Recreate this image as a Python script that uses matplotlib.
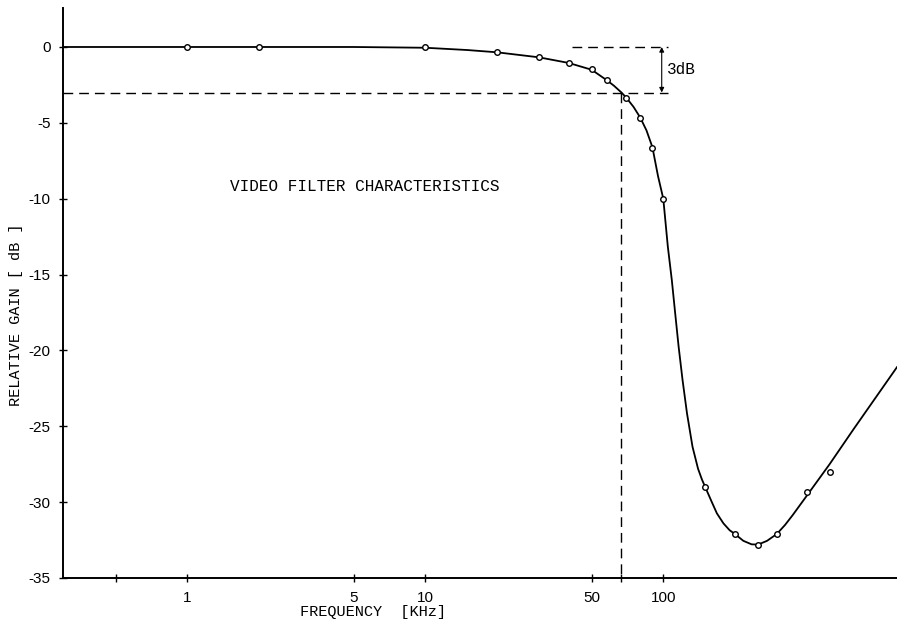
import matplotlib
matplotlib.use('Agg')
import matplotlib.pyplot as plt
from matplotlib.ticker import FixedLocator, NullFormatter

# measured points (frequency in kHz, relative gain in dB)
meas_freq = [1, 2, 10, 20, 30, 40, 50, 58, 70, 80, 90, 100,
             150, 200, 250, 300, 400, 500]
meas_gain = [0, 0, 0, -0.35, -0.68, -1.03, -1.47, -2.18, -3.38, -4.66, -6.64, -10.0,
             -29.0, -32.1, -32.8, -32.1, -29.3, -28.0]

# hand-drawn smooth curve
curve_freq = [0.3, 1, 5, 10, 15, 20, 30, 40, 50, 58, 62, 66.7, 70, 75, 80, 85, 90,
              95, 100, 104.5, 108.6, 112.2, 116, 120.5, 125.8, 132.7, 140, 145.3,
              150, 160, 168, 179, 190, 200, 217, 235, 250, 273, 300, 325, 350,
              400, 500, 630, 960]
curve_gain = [0, 0, 0, -0.05, -0.2, -0.35, -0.68, -1.05, -1.5, -2.2, -2.55, -3.0,
              -3.35, -3.95, -4.65, -5.5, -6.6, -8.5, -10.0, -13.16, -15.36, -17.55,
              -19.75, -21.95, -24.15, -26.35, -27.8, -28.5, -29.0, -30.0, -30.74,
              -31.4, -31.85, -32.1, -32.55, -32.78, -32.8, -32.55, -32.1, -31.5,
              -30.85, -29.6, -27.5, -25.2, -21.1]

f3db = 66.7          # -3 dB frequency
xticks = [1, 5, 10, 50, 100]
xtick_labels = ['1', '5', '10', '50', '100']
yticks = [0, -5, -10, -15, -20, -25, -30, -35]

mono = 'Liberation Mono'
sans = 'Liberation Sans'

fig = plt.figure(figsize=(8.97, 6.26), dpi=100)
ax = fig.add_axes([63 / 897, 1 - 578 / 626, 1 - 63 / 897, (578 - 8) / 626])

ax.plot(curve_freq, curve_gain, color='black', lw=1.3, zorder=3)
ax.plot(meas_freq, meas_gain, 'o', ms=4, mfc='white', mec='black', mew=1, zorder=4)

dash = (7, 4.3)
ax.plot([0.3, 105], [-3, -3], color='black', lw=1, dashes=dash)
ax.plot([41.5, 105], [0, 0], color='black', lw=1, dashes=dash)
ax.plot([f3db, f3db], [-3, -35], color='black', lw=1, dashes=dash)
ax.annotate('', xy=(98.5, 0), xytext=(98.5, -3),
            arrowprops=dict(arrowstyle='<|-|>', color='black', lw=0.8,
                            mutation_scale=7, shrinkA=0, shrinkB=0))
ax.text(104, -1.5, '3dB', fontfamily=mono, fontsize=11.5, va='center', ha='left')

ax.text(5.55, -9.2, 'VIDEO FILTER CHARACTERISTICS', fontfamily=mono,
        fontsize=11.5, ha='center', va='center')

ax.set_xscale('log')
ax.set_xlim(0.3, 960)
ax.set_ylim(-35, 2.57)

ax.xaxis.set_major_locator(FixedLocator(xticks))
ax.set_xticklabels(xtick_labels)
ax.xaxis.set_minor_locator(FixedLocator([0.5, f3db]))
ax.xaxis.set_minor_formatter(NullFormatter())
ax.set_yticks(yticks)
ax.set_yticklabels([str(v) for v in yticks])

ax.tick_params(axis='both', which='both', direction='inout', length=6, width=1,
               labelsize=11)
ax.tick_params(axis='x', pad=6)
ax.tick_params(axis='y', pad=6)
for lab in ax.get_xticklabels() + ax.get_yticklabels():
    lab.set_fontfamily(sans)

for s in ['top', 'right']:
    ax.spines[s].set_visible(False)
for s in ['left', 'bottom']:
    ax.spines[s].set_linewidth(1.4)

fig.text(373 / 897, 1 - 612 / 626, 'FREQUENCY  [KHz]', fontfamily=mono,
         fontsize=11, ha='center', va='center')
fig.text(16 / 897, 1 - 315 / 626, 'RELATIVE GAIN [ dB ]', fontfamily=mono,
         fontsize=11, ha='center', va='center', rotation=90)

fig.savefig('out.png', dpi=100)
